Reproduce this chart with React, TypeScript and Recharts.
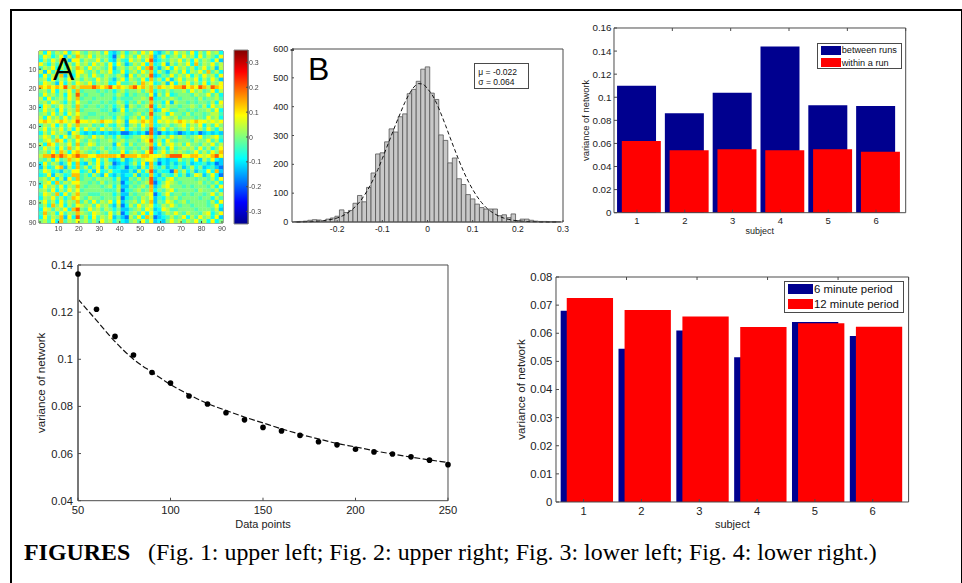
import React from 'react';
import { Bar, BarChart, ComposedChart, Legend, Line, Scatter, ScatterChart, XAxis, YAxis } from 'recharts';

const FONT = '"Liberation Sans", Arial, sans-serif';
const NAVY = '#00008f';
const RED = '#ff0000';
const AXIS = '#4a4a4a';
const M = 56; // room round each plot for the tick labels and axis titles

// Fig. 1 A: correlation matrix, estimated in blocks of 2x2 regions, one digit per block
const matrixRows = [
  '637465736 7 54656473 2 46 3 56475 7 32464 756473647563',
  '476357264 8 65746553 1 57 4 64756 8 24735 647563746537',
  '364758627 7 46557463 2 64 3 75647 9 23546 574637465372',
  '753647364 7 56475647 3 75 2 46573 8 34726 465738465746',
  '465736475 8 64756547 2 56 4 65748 9 42573 756463574626',
  '627463574 7 75464657 3 47 3 56475 8 36425 647365748463',
  '374658263 7 56475465 4 65 2 74656 9 23547 465736475637',
  '563746475 6 46547564 2 57 3 65473 8 46372 574657364752',
  '476527364 7 65746563 3 74 4 56486 7 34627 365746473657',
  '878787968 6 88898789 7 87 6 89786 8 58767 889787986987',
  '564736574 8 45554545 3 56 4 55646 8 35464 556475645736',
  '475646375 9 54555455 4 65 3 54554 7 26473 455546557463',
  '637456475 8 45545555 3 54 4 45565 9 34556 545554645564',
  '564765364 7 55455454 4 65 3 54645 8 45372 655454554637',
  '376457564 8 54554545 3 56 2 65456 9 36465 545565463756',
  '475637465 8 45555445 2 47 3 54554 8 23764 455454556473',
  '564746375 7 55445554 4 56 4 45645 9 45637 554645545664',
  '637564746 8 54555455 3 65 3 56474 8 34765 645554547563',
  '787678767 9 77676877 5 76 2 77687 8 37676 787678776767',
  '465736475 8 55645364 3 65 2 56475 8 34564 567465736475',
  '574657463 7 47564756 4 57 3 65464 9 25746 456475647536',
  '364756527 6 32323232 2 31 1 23231 9 21323 212323123232',
  '576463746 8 65475645 3 64 3 45576 8 35647 565456745674',
  '467587364 7 54654556 4 56 4 55467 9 46375 455546557463',
  '638746574 8 45764555 2 75 3 64556 8 37467 564755465746',
  '475637485 7 56545645 3 56 4 45465 9 24637 456564746357',
  '564748637 8 65453564 4 47 3 56547 9 35746 565457464758',
  '688989878 9 88778888 8 79 8 88788 7 77689 997788767897',
  '546374586 7 46537463 2 36 2 35467 7 52323 364537264732',
  '374652473 8 32647365 1 23 2 46372 8 31324 243523342312',
  '263478263 8 46357263 2 34 1 34263 8 43524 352463523421',
  '476342547 7 34627346 3 32 2 42636 9 24331 846352437382',
  '347265348 8 45364273 2 42 3 36243 8 32543 635247624731',
  '564736274 8 45546555 3 62 2 54645 9 24367 455554554637',
  '467384657 7 55454645 4 51 3 45456 9 13576 545555645463',
  '375647365 8 54555456 3 62 2 54564 8 24675 554545554637',
  '564736475 7 45555544 4 61 3 45645 8 35467 455554655463',
  '476583746 8 55444555 3 52 2 54556 7 13574 554545545746',
  '365746358 7 54655455 4 61 3 45465 7 24365 645555455364',
  '574637465 8 46474657 3 72 4 56475 8 25476 456455554637',
  '463857364 7 65647564 2 61 3 64756 7 34657 545545554573',
  '376465738 9 54756465 3 52 2 45647 6 23764 455554555462',
  '485637465 8 65476547 4 61 3 56473 7 32465 754655467357',
  '374658273 9 46374657 2 42 1 64738 6 12346 457364756372',
  '564738465 7 56464756 3 53 2 56474 7 23257 564657463735',
];
const matrixLevels = [-0.26, -0.18, -0.12, -0.08, -0.04, 0, 0.04, 0.085, 0.13, 0.2];
const matrixTicks = [10, 20, 30, 40, 50, 60, 70, 80, 90];
const colorbarTicks = [-0.3, -0.2, -0.1, 0, 0.1, 0.2, 0.3];

// Fig. 1 B: histogram of the matrix values and its normal fit
const histBins = [-0.29, -0.28, -0.27, -0.26, -0.25, -0.24, -0.23, -0.22, -0.21, -0.2, -0.19, -0.18, -0.17, -0.16, -0.15, -0.14, -0.13, -0.12, -0.11, -0.1, -0.09, -0.08, -0.07, -0.06, -0.05, -0.04, -0.03, -0.02, -0.01, 0, 0.01, 0.02, 0.03, 0.04, 0.05, 0.06, 0.07, 0.08, 0.09, 0.1, 0.11, 0.12, 0.13, 0.14, 0.15, 0.16, 0.17, 0.18, 0.19, 0.2, 0.21, 0.22, 0.23, 0.24, 0.25, 0.26, 0.27, 0.28, 0.29];
const histCounts = [1, 2, 3, 6, 8, 7, 3, 10, 14, 20, 42, 33, 40, 65, 92, 70, 120, 170, 236, 240, 278, 323, 312, 365, 375, 445, 460, 488, 530, 538, 447, 425, 302, 283, 205, 222, 150, 130, 95, 80, 62, 50, 45, 45, 45, 22, 25, 15, 28, 5, 10, 10, 6, 3, 2, 2, 1, 1, 1];
const histFit = [0, 0, 1, 1, 2, 3, 5, 7, 10, 14, 20, 28, 39, 53, 70, 92, 118, 148, 182, 220, 260, 300, 340, 378, 415, 445, 468, 480, 478, 462, 442, 412, 375, 335, 293, 252, 212, 175, 142, 113, 88, 67, 50, 37, 27, 19, 13, 9, 6, 4, 3, 2, 1, 1, 0, 0, 0, 0, 0];
const histXTicks = [-0.2, -0.1, 0, 0.1, 0.2, 0.3];
const histYTicks = [0, 100, 200, 300, 400, 500, 600];

// Fig. 2
const subjects = [1, 2, 3, 4, 5, 6];
const betweenRuns = [0.11, 0.0862, 0.104, 0.144, 0.093, 0.0925];
const withinRun = [0.062, 0.054, 0.055, 0.054, 0.055, 0.0528];
const fig2YTicks = [0, 0.02, 0.04, 0.06, 0.08, 0.1, 0.12, 0.14, 0.16];

// Fig. 3
const dataPoints = [50, 60, 70, 80, 90, 100, 110, 120, 130, 140, 150, 160, 170, 180, 190, 200, 210, 220, 230, 240, 250];
const variance = [0.1362, 0.1212, 0.1097, 0.1018, 0.0944, 0.0899, 0.0844, 0.081, 0.0773, 0.0743, 0.0711, 0.0696, 0.0677, 0.065, 0.0637, 0.0618, 0.0607, 0.0598, 0.0586, 0.0572, 0.0553];
const varianceFit = [0.1255, 0.1165, 0.1075, 0.1, 0.0945, 0.0893, 0.085, 0.0812, 0.0783, 0.0755, 0.073, 0.0705, 0.0682, 0.0662, 0.0643, 0.0628, 0.0612, 0.0598, 0.0585, 0.0573, 0.0562];
const fig3XTicks = [50, 100, 150, 200, 250];
const fig3YTicks = [0.04, 0.06, 0.08, 0.1, 0.12, 0.14];

// Fig. 4
const sixMinute = [0.068, 0.0545, 0.061, 0.0515, 0.064, 0.059];
const twelveMinute = [0.0725, 0.0683, 0.066, 0.0622, 0.0636, 0.0623];
const fig4YTicks = [0, 0.01, 0.02, 0.03, 0.04, 0.05, 0.06, 0.07, 0.08];

const jetStops: [number, number[]][] = [
  [0, [0, 0, 143]],
  [0.125, [0, 0, 255]],
  [0.375, [0, 255, 255]],
  [0.625, [255, 255, 0]],
  [0.875, [255, 0, 0]],
  [1, [128, 0, 0]],
];

function jet(value: number) {
  const t = Math.min(1, Math.max(0, (value + 0.35) / 0.7));
  for (let i = 1; i < jetStops.length; i++) {
    const [b, cb] = jetStops[i];
    const [a, ca] = jetStops[i - 1];
    if (t <= b) {
      const k = (t - a) / (b - a);
      return `rgb(${ca.map((c, n) => Math.round(c + (cb[n] - c) * k)).join(',')})`;
    }
  }
  return 'rgb(128,0,0)';
}

const matrixData = matrixRows.flatMap((row, r) =>
  row.replace(/ /g, '').split('').map((ch, c) => {
    const value = matrixLevels[Number(ch)];
    return { col: c * 2 + 1.5, row: r * 2 + 1.5, value };
  })
);
const colorbarData = [{ name: 'scale', range: [-0.35, 0.35] }];
const histData = histBins.map((bin, i) => ({ bin, count: histCounts[i], fit: histFit[i] }));
const fig2Data = subjects.map((s, i) => ({ subject: s, between: betweenRuns[i], within: withinRun[i] }));
const fig3Data = dataPoints.map((n, i) => ({ n, variance: variance[i], fit: varianceFit[i] }));
const fig4Data = subjects.map((s, i) => ({ subject: s, six: sixMinute[i], twelve: twelveMinute[i] }));

type TickOpts = { size?: number; gap?: number; len?: number; color?: string; label?: boolean };

// MATLAB style: tick marks point into the plot box
const boxTick = (side: 'left' | 'right' | 'top' | 'bottom', opts: TickOpts = {}) => (p: any) => {
  const { size = 9, gap = 4, len = 3, color = '#222', label = side === 'left' || side === 'bottom' } = opts;
  const { x, y, payload } = p;
  const dx = side === 'left' ? len : side === 'right' ? -len : 0;
  const dy = side === 'top' ? len : side === 'bottom' ? -len : 0;
  const tx = side === 'left' ? x - gap : side === 'right' ? x + gap : x;
  const ty = side === 'bottom' ? y + gap : side === 'top' ? y - gap : y;
  const anchor = side === 'left' ? 'end' : side === 'right' ? 'start' : 'middle';
  return (
    <g>
      <line x1={x} y1={y} x2={x + dx} y2={y + dy} stroke={AXIS} strokeWidth={1} />
      {label && (
        <text x={tx} y={ty} textAnchor={anchor} dominantBaseline="central" fontSize={size} fontFamily={FONT} fill={color}>
          {String(payload.value)}
        </text>
      )}
    </g>
  );
};

const yTitle = (text: string, dist: number, size: number) => ({
  content: ({ viewBox }: any) => {
    const cx = viewBox.x + viewBox.width - dist;
    const cy = viewBox.y + viewBox.height / 2;
    return (
      <text x={cx} y={cy} transform={`rotate(-90 ${cx} ${cy})`} textAnchor="middle" dominantBaseline="central" fontSize={size} fontFamily={FONT} fill="#222">
        {text}
      </text>
    );
  },
});

const xTitle = (text: string, dist: number, size: number) => ({
  content: ({ viewBox }: any) => (
    <text x={viewBox.x + viewBox.width / 2} y={viewBox.y + dist} textAnchor="middle" dominantBaseline="central" fontSize={size} fontFamily={FONT} fill="#222">
      {text}
    </text>
  ),
});

const axisDefaults = { tickSize: 0, tickMargin: 0, tickLine: false, interval: 0 as const, stroke: AXIS };
// every plot has an axis of 1px on each side, so the margin is one short of M
const margin = { top: M - 1, right: M - 1, bottom: M - 1, left: M - 1 };

function place(x0: number, y0: number, x1: number, y1: number) {
  return {
    style: { position: 'absolute' as const, left: x0 - M, top: y0 - M },
    width: x1 - x0 + M * 2,
    height: y1 - y0 + M * 2,
  };
}

const matlabLegend = (size: number, swatchW: number, swatchH: number, rowGap: number) => ({ payload }: any) => (
  <div
    style={{
      boxSizing: 'border-box',
      width: '100%',
      height: '100%',
      border: `1px solid ${AXIS}`,
      background: '#fff',
      padding: '2px 3px',
      fontFamily: FONT,
      fontSize: size,
      color: '#111',
    }}
  >
    {(payload || []).map((item: any) => (
      <div key={item.value} style={{ display: 'flex', alignItems: 'center', height: swatchH, marginBottom: rowGap, whiteSpace: 'nowrap' }}>
        <span style={{ width: swatchW, height: swatchH, background: item.color, marginRight: 1, flex: 'none' }} />
        {item.value}
      </div>
    ))}
  </div>
);

function Heatmap() {
  const box = place(39, 51, 223, 223);
  const cellW = 184 / 45 + 0.3;
  const cellH = 172 / 45 + 0.3;
  return (
    <div style={{ ...box.style, filter: 'blur(0.6px)' }}>
      <ScatterChart width={box.width} height={box.height} margin={margin}>
        <XAxis {...axisDefaults} type="number" dataKey="col" domain={[0.5, 90.5]} ticks={matrixTicks} height={1} tick={boxTick('bottom', { size: 7, gap: 5, len: 2, color: '#444' })} />
        <XAxis {...axisDefaults} xAxisId="top" orientation="top" type="number" domain={[0.5, 90.5]} ticks={matrixTicks} height={1} tick={boxTick('top', { len: 2 })} />
        <YAxis {...axisDefaults} type="number" dataKey="row" reversed domain={[0.5, 90.5]} ticks={matrixTicks} width={1} tick={boxTick('left', { size: 7, gap: 2.5, len: 2, color: '#444' })} />
        <YAxis {...axisDefaults} yAxisId="right" orientation="right" type="number" reversed domain={[0.5, 90.5]} ticks={matrixTicks} width={1} tick={boxTick('right', { len: 2 })} />
        <Scatter
          data={matrixData}
          isAnimationActive={false}
          shape={(p: any) => (
            <rect x={p.cx - cellW / 2} y={p.cy - cellH / 2} width={cellW} height={cellH} fill={jet(p.payload.value)} />
          )}
        />
      </ScatterChart>
    </div>
  );
}

function Colorbar() {
  const box = place(233.5, 50, 247.5, 224);
  return (
    <div style={{ ...box.style, filter: 'blur(0.3px)' }}>
      <BarChart width={box.width} height={box.height} margin={{ top: M, bottom: M, left: M, right: M - 1 }} data={colorbarData} barCategoryGap={0}>
        <defs>
          <linearGradient id="jet" x1="0" y1="1" x2="0" y2="0">
            {jetStops.map(([offset, c]) => (
              <stop key={offset} offset={offset} stopColor={`rgb(${c.join(',')})`} />
            ))}
          </linearGradient>
        </defs>
        <XAxis dataKey="name" hide />
        <YAxis {...axisDefaults} orientation="right" type="number" domain={[-0.35, 0.35]} ticks={colorbarTicks} width={1} tick={boxTick('right', { size: 7, gap: 1, len: 2, color: '#444', label: true })} />
        <Bar dataKey="range" fill="url(#jet)" stroke="#888" isAnimationActive={false} />
      </BarChart>
    </div>
  );
}

function Histogram() {
  const box = place(291.7, 49.3, 562.7, 222.3);
  return (
    <div style={box.style}>
      <ComposedChart width={box.width} height={box.height} margin={margin} data={histData}>
        <XAxis {...axisDefaults} type="number" dataKey="bin" domain={[-0.3, 0.3]} ticks={histXTicks} height={1} tick={boxTick('bottom', { size: 8.5, gap: 7, len: 2 })} />
        <XAxis {...axisDefaults} xAxisId="top" orientation="top" type="number" domain={[-0.3, 0.3]} ticks={histXTicks} height={1} tick={boxTick('top', { len: 2 })} />
        <YAxis {...axisDefaults} type="number" domain={[0, 600]} ticks={histYTicks} width={1} tick={boxTick('left', { size: 9, gap: 3.7, len: 2 })} />
        <YAxis {...axisDefaults} yAxisId="right" orientation="right" type="number" domain={[0, 600]} ticks={histYTicks} width={1} tick={boxTick('right', { len: 2 })} />
        <Bar dataKey="count" barSize={4.5} fill="#c8c8c8" stroke="#555" strokeWidth={0.8} isAnimationActive={false} />
        <Line dataKey="fit" type="monotone" stroke="#111" strokeWidth={1} strokeDasharray="4 2.5" dot={false} isAnimationActive={false} />
      </ComposedChart>
    </div>
  );
}

function BetweenWithin() {
  const box = place(614, 28.3, 905.7, 213);
  const domain: [number, number] = [0.52, 6.62];
  return (
    <div style={box.style}>
      <BarChart width={box.width} height={box.height} margin={margin} data={fig2Data}>
        <XAxis {...axisDefaults} type="number" dataKey="subject" domain={domain} ticks={subjects} height={1} tick={boxTick('bottom', { size: 9.5, gap: 8, label: true })} label={xTitle('subject', 18.7, 9)} />
        <XAxis xAxisId="shift" hide type="number" dataKey="subject" domain={[0.42, 6.52]} />
        <XAxis {...axisDefaults} xAxisId="top" orientation="top" type="number" domain={domain} ticks={subjects} height={1} tick={boxTick('top')} />
        <YAxis {...axisDefaults} type="number" domain={[0, 0.16]} ticks={fig2YTicks} width={1} tick={boxTick('left', { size: 9.8, gap: 2.5 })} label={yTitle('variance of network', 29, 9.4)} />
        <YAxis {...axisDefaults} yAxisId="right" orientation="right" type="number" domain={[0, 0.16]} ticks={fig2YTicks} width={1} tick={boxTick('right')} />
        <Bar dataKey="between" name="between runs" barSize={39} fill={NAVY} isAnimationActive={false} />
        <Bar dataKey="within" name="within a run" xAxisId="shift" barSize={39} fill={RED} isAnimationActive={false} />
        <Legend
          layout="horizontal"
          align="center"
          verticalAlign="middle"
          itemSorter={null}
          content={matlabLegend(9.2, 20, 9, 3.5)}
          wrapperStyle={{ left: 816.7 - 614 + M, top: 42.7 - 28.3 + M, width: 85, height: 26.6, margin: 0 }}
        />
      </BarChart>
    </div>
  );
}

function VarianceCurve() {
  const box = place(78.3, 265, 448.3, 500.7);
  return (
    <div style={box.style}>
      <ComposedChart width={box.width} height={box.height} margin={margin} data={fig3Data}>
        <XAxis {...axisDefaults} type="number" dataKey="n" domain={[50, 250]} ticks={fig3XTicks} height={1} tick={boxTick('bottom', { size: 11.2, gap: 9.5 })} label={xTitle('Data points', 23, 11)} />
        <XAxis {...axisDefaults} xAxisId="top" orientation="top" type="number" domain={[50, 250]} ticks={fig3XTicks} height={1} tick={boxTick('top')} />
        <YAxis {...axisDefaults} type="number" domain={[0.04, 0.14]} ticks={fig3YTicks} width={1} strokeWidth={2} stroke="#777" tick={boxTick('left', { size: 11.2, gap: 5 })} label={yTitle('variance of network', 36.6, 11.6)} />
        <YAxis {...axisDefaults} yAxisId="right" orientation="right" type="number" domain={[0.04, 0.14]} ticks={fig3YTicks} width={1} tick={boxTick('right')} />
        <Line dataKey="fit" type="monotone" stroke="#111" strokeWidth={1.2} strokeDasharray="6 2.5" dot={false} isAnimationActive={false} />
        <Line dataKey="variance" stroke="none" dot={{ r: 2.8, fill: '#000', stroke: '#000', strokeWidth: 0 }} isAnimationActive={false} />
      </ComposedChart>
    </div>
  );
}

function PeriodBars() {
  const box = place(555.7, 276.7, 908.3, 501.7);
  const domain: [number, number] = [0.523, 6.62];
  return (
    <div style={box.style}>
      <BarChart width={box.width} height={box.height} margin={margin} data={fig4Data}>
        <XAxis {...axisDefaults} type="number" dataKey="subject" domain={domain} ticks={subjects} height={1} tick={boxTick('bottom', { size: 11.2, gap: 9 })} label={xTitle('subject', 22, 11)} />
        <XAxis xAxisId="shift" hide type="number" dataKey="subject" domain={[0.418, 6.515]} />
        <XAxis {...axisDefaults} xAxisId="top" orientation="top" type="number" domain={domain} ticks={subjects} height={1} tick={boxTick('top')} />
        <YAxis {...axisDefaults} type="number" domain={[0, 0.08]} ticks={fig4YTicks} width={1} tick={boxTick('left', { size: 11.4, gap: 3.7 })} label={yTitle('variance of network', 35, 11.6)} />
        <YAxis {...axisDefaults} yAxisId="right" orientation="right" type="number" domain={[0, 0.08]} ticks={fig4YTicks} width={1} tick={boxTick('right')} />
        <Bar dataKey="six" name="6 minute period" barSize={46.3} fill={NAVY} isAnimationActive={false} />
        <Bar dataKey="twelve" name="12 minute period" xAxisId="shift" barSize={46.3} fill={RED} isAnimationActive={false} />
        <Legend
          layout="horizontal"
          align="center"
          verticalAlign="middle"
          itemSorter={null}
          content={matlabLegend(11.4, 25, 10.7, 4.3)}
          wrapperStyle={{ left: 784 - 555.7 + M, top: 280.7 - 276.7 + M, width: 120.3, height: 32.6, margin: 0 }}
        />
      </BarChart>
    </div>
  );
}

const panelLetter = (left: number): React.CSSProperties => ({
  position: 'absolute',
  left,
  top: 53,
  fontFamily: FONT,
  fontSize: 32,
  lineHeight: '32px',
  color: '#000',
});

export default function App() {
  return (
    <div style={{ position: 'fixed', left: 0, top: 0, width: 962, height: 583, overflow: 'hidden', background: '#fff' }}>
      <div style={{ position: 'absolute', left: 10, top: 8.5, width: 949, height: 600, border: '2px solid #000', borderBottom: 'none' }} />
      <Heatmap />
      <Colorbar />
      <Histogram />
      <BetweenWithin />
      <VarianceCurve />
      <PeriodBars />
      <div style={panelLetter(53)}>A</div>
      <div style={panelLetter(308)}>B</div>
      <div
        style={{
          position: 'absolute',
          left: 474.3,
          top: 62.7,
          width: 54.4,
          height: 26.6,
          boxSizing: 'border-box',
          border: `1px solid ${AXIS}`,
          padding: '3px 3px',
          background: '#fff',
          fontFamily: FONT,
          fontSize: 8.5,
          lineHeight: '10px',
          color: '#111',
        }}
      >
        <div>μ = -0.022</div>
        <div>σ = 0.064</div>
      </div>
      <div
        style={{
          position: 'absolute',
          left: 24,
          top: 538,
          fontFamily: '"Liberation Serif", serif',
          fontSize: 23.9,
          lineHeight: '28px',
          color: '#000',
          whiteSpace: 'pre',
        }}
      >
        <b>FIGURES</b>
        {'   (Fig. 1: upper left; Fig. 2: upper right; Fig. 3: lower left; Fig. 4: lower right.)'}
      </div>
    </div>
  );
}
